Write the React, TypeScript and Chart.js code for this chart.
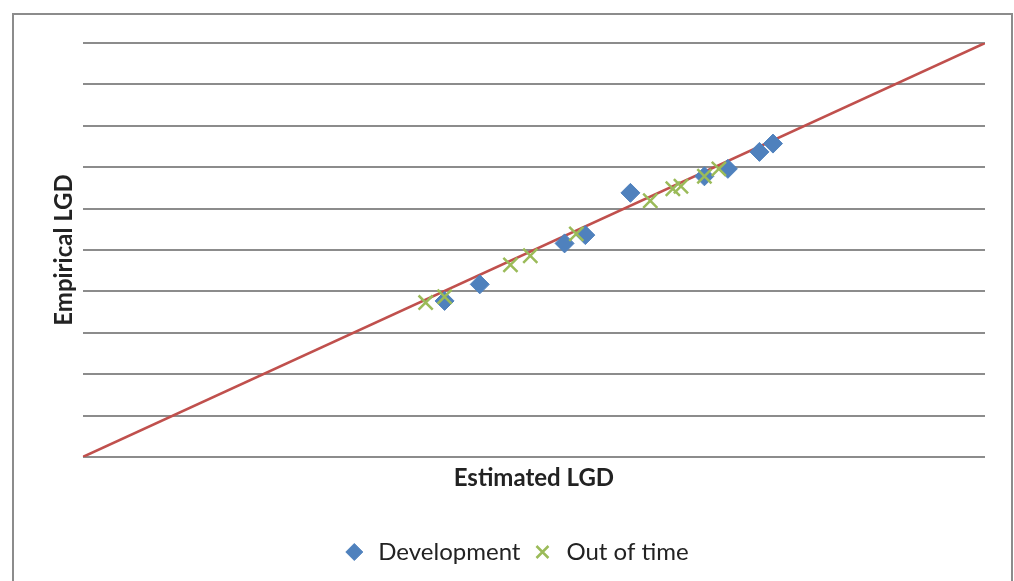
import React, { useEffect, useRef } from 'react';
import { Chart, registerables } from 'chart.js';

Chart.register(...registerables);

// Development sample: estimated vs empirical LGD
const devEstimated = [0.401, 0.440, 0.534, 0.557, 0.607, 0.689, 0.715, 0.750, 0.765];
const devEmpirical = [0.377, 0.417, 0.516, 0.536, 0.638, 0.678, 0.696, 0.737, 0.757];

// Out of time sample
const ootEstimated = [0.380, 0.401, 0.474, 0.496, 0.547, 0.629, 0.654, 0.663, 0.689, 0.705];
const ootEmpirical = [0.373, 0.387, 0.464, 0.486, 0.539, 0.619, 0.648, 0.654, 0.678, 0.696];

// 45-degree reference line
const refEstimated = [0, 1];
const refEmpirical = [0, 1];

const seriesNames = ['Development', 'Out of time'];
const axisTitles = { x: 'Estimated LGD', y: 'Empirical LGD' };

const FONT = 'Lato, "Liberation Sans", sans-serif';

export default function App() {
  const ref = useRef<HTMLCanvasElement | null>(null);

  useEffect(() => {
    if (!ref.current) return;
    const toPts = (xs: number[], ys: number[]) => xs.map((x, i) => ({ x, y: ys[i] }));
    const chart = new Chart(ref.current, {
      type: 'scatter',
      data: {
        datasets: [
          {
            label: seriesNames[0],
            data: toPts(devEstimated, devEmpirical),
            pointStyle: 'rectRot',
            pointRadius: 9.5,
            backgroundColor: '#4f81bd',
            borderColor: '#4f81bd',
            borderWidth: 1,
            order: 1,
          },
          {
            label: seriesNames[1],
            data: toPts(ootEstimated, ootEmpirical),
            pointStyle: 'crossRot',
            pointRadius: 10,
            backgroundColor: '#9bbb59',
            borderColor: '#9bbb59',
            borderWidth: 2.5,
            order: 0,
          },
          {
            label: 'ref',
            type: 'line',
            data: toPts(refEstimated, refEmpirical),
            borderColor: '#c0504d',
            borderWidth: 2.5,
            pointRadius: 0,
            fill: false,
            order: 2,
          } as any,
        ],
      },
      options: {
        animation: false,
        responsive: false,
        layout: { padding: { left: 46, right: 29, top: 43, bottom: 7 } },
        plugins: {
          tooltip: { enabled: false },
          legend: {
            position: 'bottom',
            labels: {
              usePointStyle: true,
              boxHeight: 12,
              color: '#222',
              font: { family: FONT, size: 24 },
              filter: (item) => item.text !== 'ref',
              sort: (a, b) => a.datasetIndex - b.datasetIndex,
            },
          },
        },
        scales: {
          x: {
            type: 'linear',
            min: 0,
            max: 1,
            grid: { display: false, drawTicks: false },
            border: { display: false },
            ticks: { display: false },
            title: {
              display: true,
              text: axisTitles.x,
              color: '#222',
              font: { family: FONT, size: 24, weight: 'bold' },
              padding: { top: 6.6, bottom: 37.6 },
            },
          },
          y: {
            type: 'linear',
            min: 0,
            max: 1,
            ticks: { display: false, stepSize: 0.1 },
            grid: { color: '#8c8c8c', lineWidth: 2, drawTicks: false },
            border: { display: false },
            title: {
              display: true,
              text: axisTitles.y,
              color: '#222',
              font: { family: FONT, size: 24, weight: 'bold' },
              padding: { top: 4, bottom: 4 },
            },
          },
        },
      },
    });
    return () => chart.destroy();
  }, []);

  return (
    <div style={{ position: 'fixed', left: 0, top: 0, width: 1014, height: 581, background: '#fff' }}>
      <div
        style={{
          position: 'absolute',
          left: 12,
          top: 13,
          width: 1001,
          height: 600,
          border: '2px solid #8c8c8c',
          boxSizing: 'border-box',
        }}
      />
      <canvas ref={ref} width={1014} height={581} style={{ position: 'absolute', left: 0, top: 0 }} />
    </div>
  );
}
